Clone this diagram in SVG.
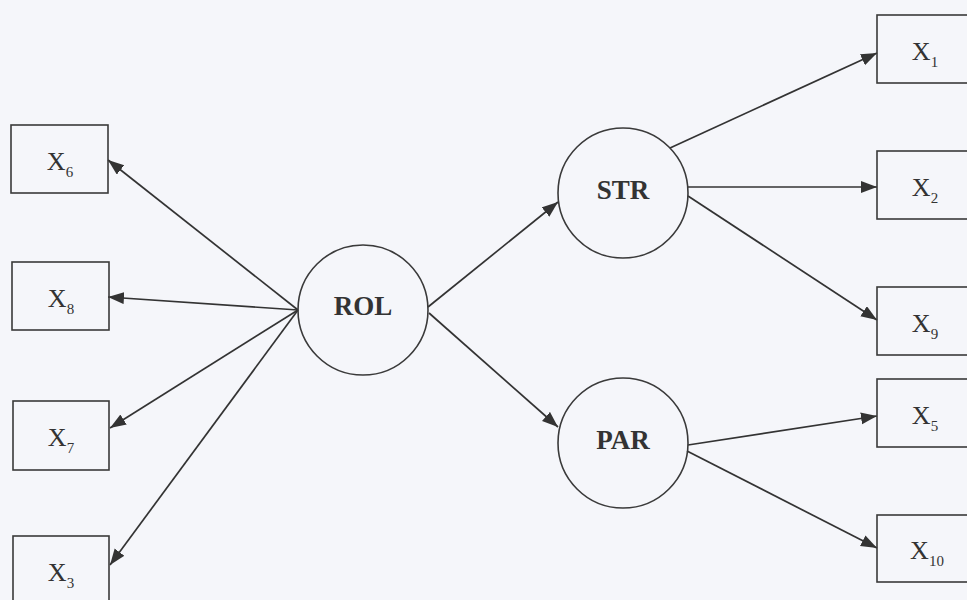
<svg xmlns="http://www.w3.org/2000/svg" width="967" height="600" viewBox="0 0 967 600">
  <style>
    .box { fill: none; stroke: #3a3a3a; stroke-width: 1.6; }
    .lat { fill: none; stroke: #3a3a3a; stroke-width: 1.6; }
    .edge { stroke: #333; stroke-width: 1.7; fill: none; marker-end: url(#arrow); }
    .obs { font-family: "Liberation Serif", "Times New Roman", serif; font-size: 26px; fill: #333; text-anchor: middle; }
    .sub { font-size: 15px; }
    .lname { font-family: "Liberation Serif", "Times New Roman", serif; font-size: 27px; font-weight: bold; fill: #333; text-anchor: middle; }
  </style>
  <defs>
    <marker id="arrow" markerUnits="userSpaceOnUse" markerWidth="17" markerHeight="13" refX="16" refY="6" orient="auto">
      <path d="M0,0 L16,6 L0,12 z" fill="#333"/>
    </marker>
  </defs>

  <rect width="967" height="600" fill="#f5f6fa"/>

  <!-- connectors -->
  <g id="connectors">
    <line class="edge" x1="298" y1="310" x2="108" y2="160"/>
    <line class="edge" x1="298" y1="310" x2="108" y2="297"/>
    <line class="edge" x1="298" y1="310" x2="110" y2="428"/>
    <line class="edge" x1="298" y1="310" x2="110" y2="565"/>
    <line class="edge" x1="428" y1="307" x2="558" y2="202"/>
    <line class="edge" x1="429" y1="313" x2="558" y2="427"/>
    <line class="edge" x1="670" y1="148" x2="877" y2="53"/>
    <line class="edge" x1="687" y1="187" x2="877" y2="187"/>
    <line class="edge" x1="688" y1="196" x2="877" y2="320"/>
    <line class="edge" x1="688" y1="445" x2="877" y2="416"/>
    <line class="edge" x1="687" y1="451" x2="877" y2="548"/>
  </g>

  <!-- latent variables -->
  <g id="ROL">
    <circle class="lat" cx="363" cy="310" r="65"/>
    <text class="lname" x="363" y="315">ROL</text>
  </g>
  <g id="STR">
    <circle class="lat" cx="623" cy="193" r="65"/>
    <text class="lname" x="623" y="199">STR</text>
  </g>
  <g id="PAR">
    <circle class="lat" cx="623" cy="443" r="65"/>
    <text class="lname" x="623" y="449">PAR</text>
  </g>

  <!-- indicators, left column -->
  <g id="X6">
    <rect class="box" x="11" y="125" width="97" height="68"/>
    <text class="obs" x="60" y="170">X<tspan class="sub" dy="7">6</tspan></text>
  </g>
  <g id="X8">
    <rect class="box" x="12" y="262" width="97" height="68"/>
    <text class="obs" x="61" y="307">X<tspan class="sub" dy="7">8</tspan></text>
  </g>
  <g id="X7">
    <rect class="box" x="13" y="401" width="96" height="69"/>
    <text class="obs" x="61" y="446">X<tspan class="sub" dy="7">7</tspan></text>
  </g>
  <g id="X3">
    <rect class="box" x="13" y="536" width="96" height="68"/>
    <text class="obs" x="61" y="581">X<tspan class="sub" dy="7">3</tspan></text>
  </g>

  <!-- indicators, right column -->
  <g id="X1">
    <rect class="box" x="877" y="15" width="97" height="68"/>
    <text class="obs" x="925" y="60">X<tspan class="sub" dy="7">1</tspan></text>
  </g>
  <g id="X2">
    <rect class="box" x="877" y="151" width="97" height="68"/>
    <text class="obs" x="925" y="196">X<tspan class="sub" dy="7">2</tspan></text>
  </g>
  <g id="X9">
    <rect class="box" x="877" y="287" width="97" height="68"/>
    <text class="obs" x="925" y="332">X<tspan class="sub" dy="7">9</tspan></text>
  </g>
  <g id="X5">
    <rect class="box" x="877" y="379" width="97" height="68"/>
    <text class="obs" x="925" y="424">X<tspan class="sub" dy="7">5</tspan></text>
  </g>
  <g id="X10">
    <rect class="box" x="877" y="515" width="97" height="67"/>
    <text class="obs" x="927" y="559">X<tspan class="sub" dy="7">10</tspan></text>
  </g>
</svg>
